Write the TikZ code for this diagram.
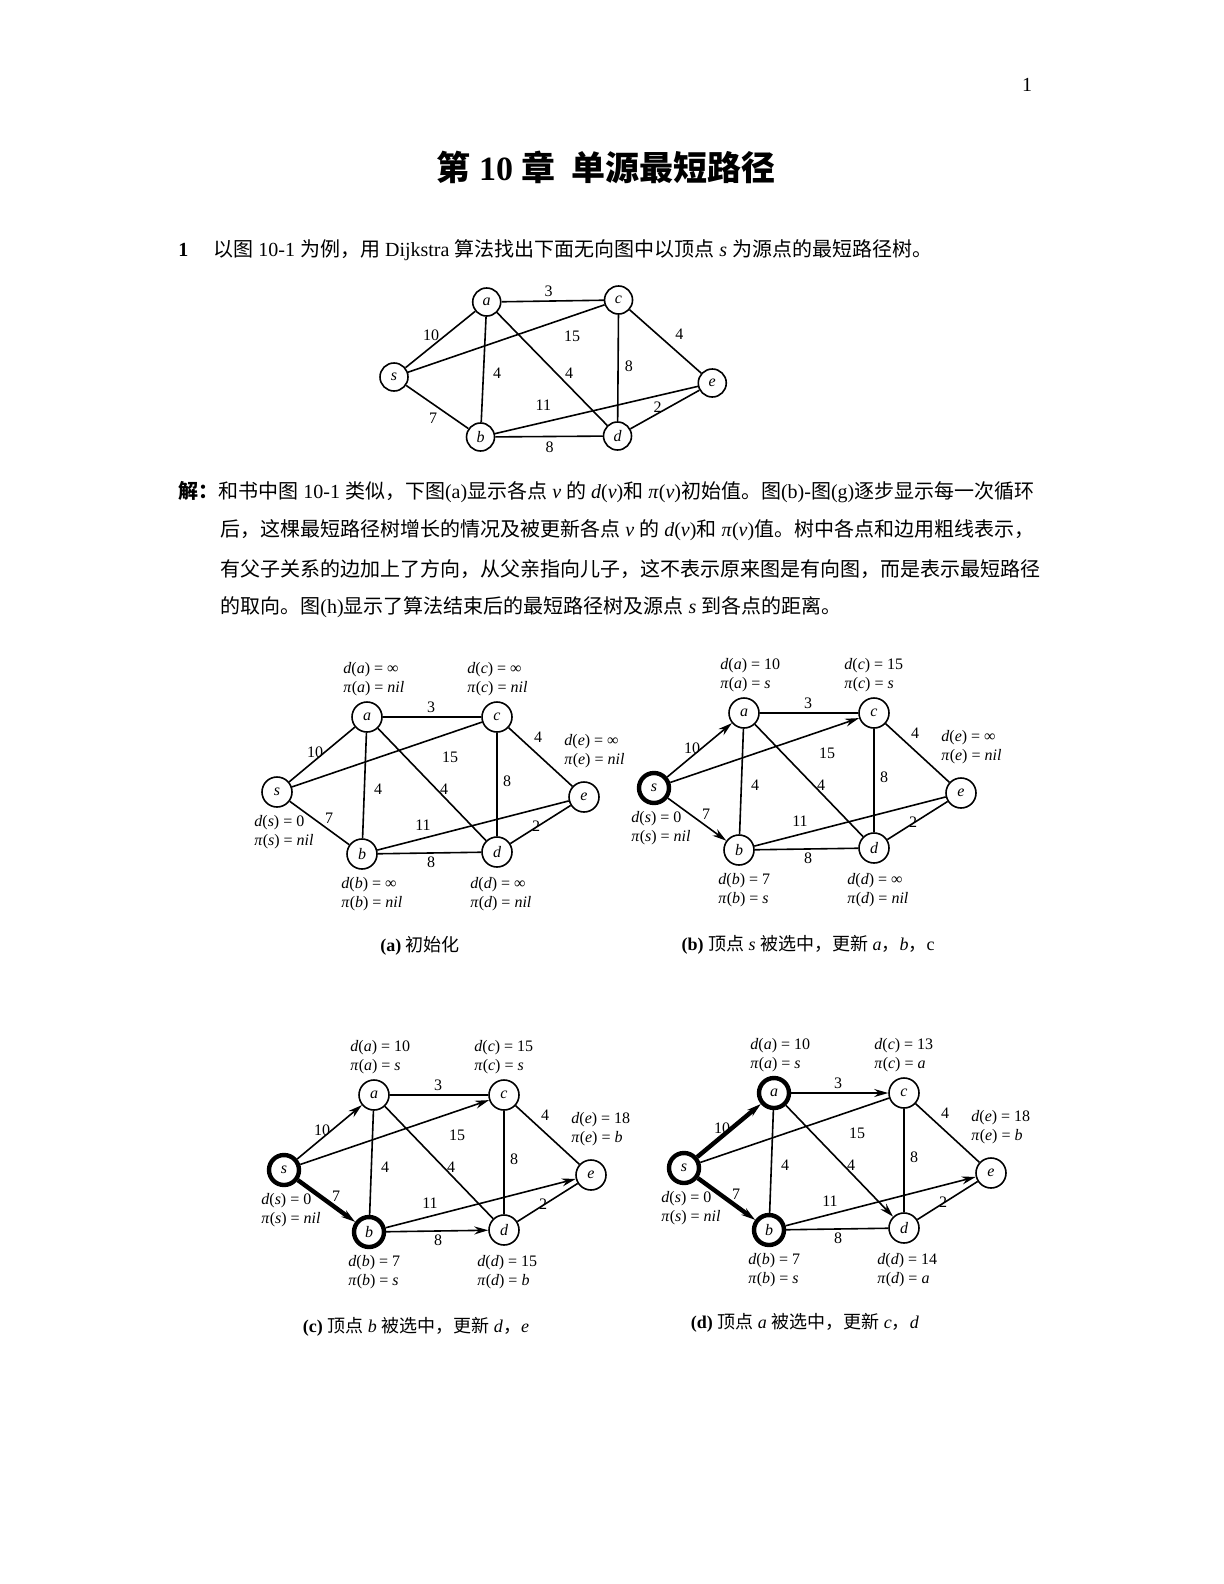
\documentclass[tikz,border=0pt]{standalone}
\usepackage{fontspec}
\setmainfont{Liberation Serif}
\newfontfamily\cjk{Noto Sans CJK SC}
\usetikzlibrary{arrows.meta}
\newcommand\zh[1]{{\cjk #1}}
\newcommand\dval[3]{\textit{d}(\textit{#1}) = #2\\\textit{π}(\textit{#1}) = #3}
\tikzset{
  vtx/.style={draw,circle,thick,minimum size=15pt,inner sep=0pt,fill=white,font=\footnotesize\itshape},
  edge/.style={thick},
  tree/.style={line width=2.2pt},
  dir/.style={-{Stealth[length=7pt,width=4pt]}},
  wt/.style={font=\footnotesize,inner sep=1pt},
  ann/.style={anchor=west,align=left,font=\footnotesize,inner sep=0pt},
  captext/.style={font=\small}
}
% node list and edge list, positions relative to s
\newcommand\net[1]{%
  \foreach \n/\x/\y in {s/0/0,a/90/-75,c/220/-75,e/307/5,b/85/62,d/220/60}
    \node[vtx,hl\n/.try] (#1\n) at (\x,\y) {\n};
  \foreach \u/\v in {s/a,s/c,s/b,a/c,a/b,a/d,c/d,c/e,b/d,b/e,d/e}
    \draw[edge,e\u\v/.try] (#1\u) -- (#1\v);
  \foreach \t/\x/\y in {10/38/-40,3/154/-85,15/173/-35,4/261/-55,4/101/-3,4/167/-3,8/230/-11,11/146/33,2/259/34,7/52/26,8/154/70}
    \node[wt] at (\x,\y) {\t};}
\newcommand\annot[6]{%
  \node[ann] at (66,-113) {#1};
  \node[ann] at (190,-113) {#2};
  \node[ann] at (287,-41) {#3};
  \node[ann] at (-23,40) {#4};
  \node[ann] at (64,102) {#5};
  \node[ann] at (193,102) {#6};}
\begin{document}
\begin{tikzpicture}[x=0.5pt,y=-0.5pt]
\useasboundingbox (0,0) rectangle (1224,1584);
\node at (1027,85) {1};
\node[font=\fontsize{17}{20}\selectfont\bfseries] at (606,167) {\zh{第} 10 \zh{章\ \ 单源最短路径}};
\node[anchor=west,inner sep=0pt] at (178,250) {\textbf{1}\quad\ \zh{以图} 10-1 \zh{为例，用} Dijkstra \zh{算法找出下面无向图中以顶点} \textit{s} \zh{为源点的最短路径树。}};
% small graph
\begin{scope}[shift={(394,377)},xscale=1.03,vtx/.append style={minimum size=14pt}]
  \foreach \n/\x/\y in {s/0/0,a/90/-75,c/218/-77,e/309/6,b/84/60,d/217/59}
    \node[vtx] (t\n) at (\x,\y) {\n};
  \foreach \u/\v in {s/a,s/c,s/b,a/c,a/b,a/d,c/d,c/e,b/d,b/e,d/e}
    \draw[edge] (t\u) -- (t\v);
  \foreach \t/\x/\y in {10/36/-42,3/150/-86,15/173/-41,4/277/-43,4/100/-4,4/170/-4,8/228/-11,11/145/28,2/256/30,7/38/41,8/151/70}
    \node[wt] at (\x,\y) {\t};
\end{scope}
\node[anchor=west,inner sep=0pt] at (178,492) {\textbf{\zh{解：}}\zh{和书中图} 10-1 \zh{类似，下图}(a)\zh{显示各点} \textit{v} \zh{的} \textit{d}(\textit{v})\zh{和} \textit{π}(\textit{v})\zh{初始值。图}(b)-\zh{图}(g)\zh{逐步显示每一次循环}};
\node[anchor=west,inner sep=0pt] at (220,530) {\zh{后，这棵最短路径树增长的情况及被更新各点} \textit{v} \zh{的} \textit{d}(\textit{v})\zh{和} \textit{π}(\textit{v})\zh{值。树中各点和边用粗线表示，}};
\node[anchor=west,inner sep=0pt] at (220,569) {\zh{有父子关系的边加上了方向，从父亲指向儿子，这不表示原来图是有向图，而是表示最短路径}};
\node[anchor=west,inner sep=0pt] at (220,607) {\zh{的取向。图}(h)\zh{显示了算法结束后的最短路径树及源点} \textit{s} \zh{到各点的距离。}};
% (a)
\begin{scope}[shift={(277,792)}]
  \net{A}
  \annot{\dval{a}{∞}{\textit{nil}}}{\dval{c}{∞}{\textit{nil}}}{\dval{e}{∞}{\textit{nil}}}{\dval{s}{0}{\textit{nil}}}{\dval{b}{∞}{\textit{nil}}}{\dval{d}{∞}{\textit{nil}}}
\end{scope}
\node[captext] at (420,946) {\textbf{(a)} \zh{初始化}};
% (b)
\begin{scope}[shift={(654,788)},hls/.style={line width=2.2pt},
    esa/.style={dir},esc/.style={dir},esb/.style={dir}]
  \net{B}
  \annot{\dval{a}{10}{\textit{s}}}{\dval{c}{15}{\textit{s}}}{\dval{e}{∞}{\textit{nil}}}{\dval{s}{0}{\textit{nil}}}{\dval{b}{7}{\textit{s}}}{\dval{d}{∞}{\textit{nil}}}
\end{scope}
\node[captext] at (808,945) {\textbf{(b)} \zh{顶点} \textit{s} \zh{被选中，更新} \textit{a}\zh{，}\textit{b}\zh{，}c};
% (c)
\begin{scope}[shift={(284,1170)},hls/.style={line width=2.2pt},hlb/.style={line width=2.2pt},
    esa/.style={dir},esc/.style={dir},esb/.style={dir,tree},ebe/.style={dir},ebd/.style={dir}]
  \net{C}
  \annot{\dval{a}{10}{\textit{s}}}{\dval{c}{15}{\textit{s}}}{\dval{e}{18}{\textit{b}}}{\dval{s}{0}{\textit{nil}}}{\dval{b}{7}{\textit{s}}}{\dval{d}{15}{\textit{b}}}
\end{scope}
\node[captext] at (416,1327) {\textbf{(c)} \zh{顶点} \textit{b} \zh{被选中，更新} \textit{d}\zh{，}\textit{e}};
% (d)
\begin{scope}[shift={(684,1168)},hls/.style={line width=2.2pt},hla/.style={line width=2.2pt},hlb/.style={line width=2.2pt},
    esa/.style={dir,tree},esb/.style={dir,tree},eac/.style={dir},ebe/.style={dir},ead/.style={dir}]
  \net{D}
  \annot{\dval{a}{10}{\textit{s}}}{\dval{c}{13}{\textit{a}}}{\dval{e}{18}{\textit{b}}}{\dval{s}{0}{\textit{nil}}}{\dval{b}{7}{\textit{s}}}{\dval{d}{14}{\textit{a}}}
\end{scope}
\node[captext] at (805,1323) {\textbf{(d)} \zh{顶点} \textit{a} \zh{被选中，更新} \textit{c}\zh{，}\textit{d}};
\end{tikzpicture}
\end{document}
